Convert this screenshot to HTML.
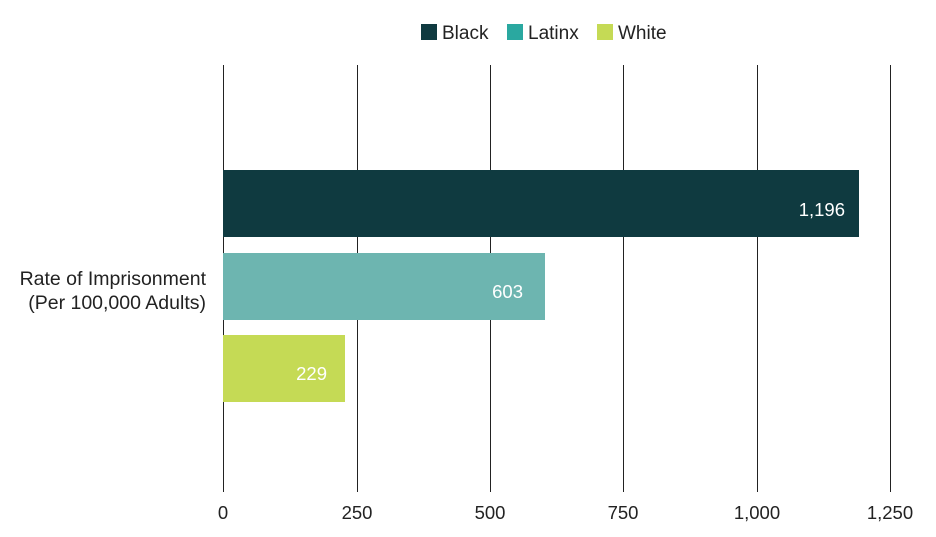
<!DOCTYPE html>
<html><head><meta charset="utf-8"><style>
body{margin:0;background:#fff;}
svg{display:block;font-family:"Liberation Sans",sans-serif;}
</style></head><body>
<svg width="936" height="537" viewBox="0 0 936 537">
<rect width="936" height="537" fill="#fff"/>
<rect x="421" y="24" width="16" height="16" fill="#0f3a40"/>
<rect x="507" y="24" width="16" height="16" fill="#2aa8a0"/>
<rect x="597" y="24" width="16" height="16" fill="#c5da55"/>
<g font-size="19" fill="#222">
<text x="442" y="39">Black</text>
<text x="528" y="39">Latinx</text>
<text x="618" y="39">White</text>
</g>
<g stroke="#222" stroke-width="1">
<line x1="223.5" y1="65" x2="223.5" y2="492"/>
<line x1="357.5" y1="65" x2="357.5" y2="492"/>
<line x1="490.5" y1="65" x2="490.5" y2="492"/>
<line x1="623.5" y1="65" x2="623.5" y2="492"/>
<line x1="757.5" y1="65" x2="757.5" y2="492"/>
<line x1="890.5" y1="65" x2="890.5" y2="492"/>
</g>
<rect x="223" y="170" width="636" height="67" fill="#0f3a40"/>
<rect x="223" y="253" width="322" height="67" fill="#6db5b0"/>
<rect x="223" y="335" width="122" height="67" fill="#c5da55"/>
<g font-size="18.5" fill="#fff" text-anchor="end">
<text x="845" y="216">1,196</text>
<text x="523" y="298">603</text>
<text x="327" y="380">229</text>
</g>
<g font-size="18.5" fill="#222" text-anchor="middle">
<text x="223" y="519">0</text>
<text x="357" y="519">250</text>
<text x="490" y="519">500</text>
<text x="623" y="519">750</text>
<text x="757" y="519">1,000</text>
<text x="890" y="519">1,250</text>
</g>
<g font-size="19.5" fill="#222" text-anchor="end">
<text x="206" y="285">Rate of Imprisonment</text>
<text x="206" y="309">(Per 100,000 Adults)</text>
</g>
</svg>
</body></html>
